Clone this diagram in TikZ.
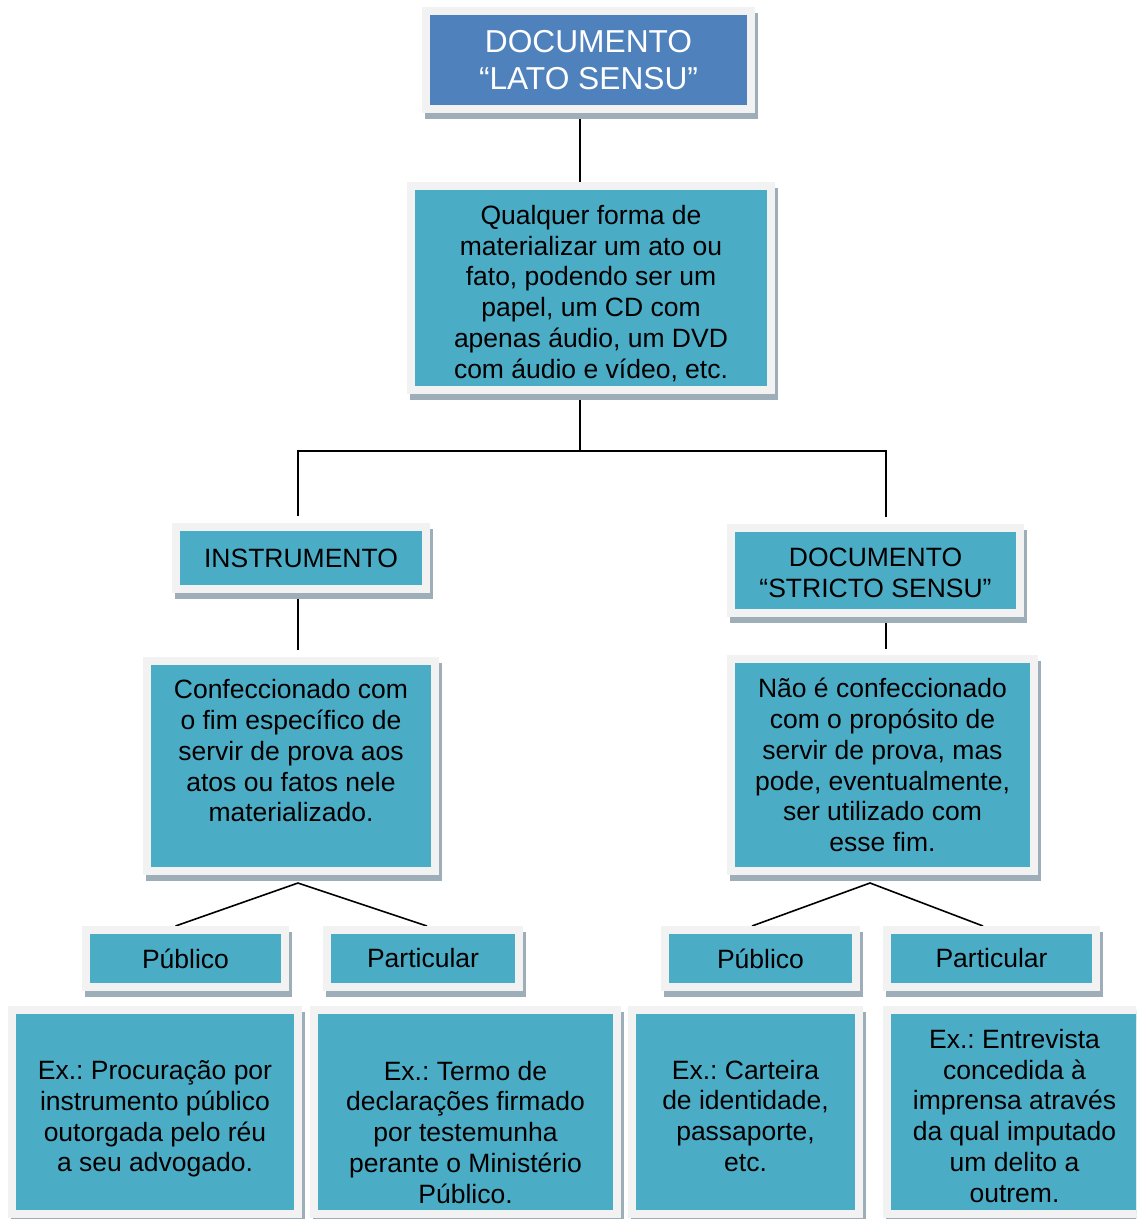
\documentclass[tikz,border=0pt]{standalone}
\usepackage{fontspec}
\setmainfont{Liberation Sans}
\usetikzlibrary{backgrounds}
\definecolor{frameg}{RGB}{242,242,242}
\definecolor{tealbox}{RGB}{75,172,198}
\definecolor{bluebox}{RGB}{79,129,189}
\definecolor{shadowg}{RGB}{158,174,184}
\tikzset{
  shadowed/.style={preaction={fill=shadowg,draw=shadowg,transform canvas={shift={(3pt,-6pt)}}}},
  card/.style={shadowed,fill=tealbox,draw=frameg,line width=8pt,inner sep=0pt,align=center,
    font=\fontsize{26.5}{30.8}\selectfont},
  headcard/.style={card,fill=bluebox,text=white,font=\fontsize{31.7}{37}\selectfont},
  link/.style={line width=1.6pt,black}
}
\newcommand{\topgap}[1]{\rule{0pt}{#1}}
\frenchspacing

\begin{document}
\begin{tikzpicture}[x=1pt,y=-1pt]
  \path[use as bounding box] (0,0) rectangle (1136,1219);
  \clip (0,0) rectangle (1136,1219);
  % upper part
  \node[headcard,minimum width=325pt,minimum height=98pt] (lato) at (588.5,60) {DOCUMENTO\\“LATO SENSU”};
  \node[card,minimum width=360pt,minimum height=204pt] (latodef) at (591,288)
    {\topgap{30pt}Qualquer forma de\\materializar um ato ou\\fato, podendo ser um\\papel, um CD com\\apenas áudio, um DVD\\com áudio e vídeo, etc.};
  \node[card,minimum width=250pt,minimum height=62pt] (instr) at (301,558) {INSTRUMENTO};
  \node[card,minimum width=289pt,minimum height=85pt] (stricto) at (875.5,570.5) {\topgap{24pt}DOCUMENTO\\“STRICTO SENSU”};
  \node[card,minimum width=288pt,minimum height=210pt] (instrdef) at (291,766)
    {Confeccionado com\\o fim específico de\\servir de prova aos\\atos ou fatos nele\\materializado.\\\phantom{E}};
  \node[card,minimum width=303pt,minimum height=212pt] (strictodef) at (882.5,765)
    {Não é confeccionado\\com o propósito de\\servir de prova, mas\\pode, eventualmente,\\ser utilizado com\\esse fim.};
  % kinds
  \node[card,minimum width=199pt,minimum height=57pt] (instrpub) at (185.5,958.5) {Público};
  \node[card,minimum width=192pt,minimum height=57pt] (instrpart) at (423,958.5) {Particular};
  \node[card,minimum width=191pt,minimum height=57pt] (strictopub) at (760.5,958.5) {Público};
  \node[card,minimum width=209pt,minimum height=57pt] (strictopart) at (991.5,958.5) {Particular};
  % examples
  \node[card,minimum width=286pt,minimum height=204pt] (expub) at (155,1112)
    {\topgap{33pt}Ex.: Procuração por\\instrumento público\\outorgada pelo réu\\a seu advogado.};
  \node[card,minimum width=303pt,minimum height=204pt] (expart) at (465.5,1112)
    {\topgap{29pt}\\Ex.: Termo de\\declarações firmado\\por testemunha\\perante o Ministério\\Público.};
  \node[card,minimum width=227pt,minimum height=204pt] (exsp) at (745.5,1112)
    {\topgap{27pt}Ex.: Carteira\\de identidade,\\passaporte,\\etc.};
  \node[card,minimum width=255pt,minimum height=204pt] (exspart) at (1014.5,1112)
    {\topgap{27pt}Ex.: Entrevista\\concedida à\\imprensa através\\da qual imputado\\um delito a\\outrem.};
  % connectors
  \coordinate (split) at (580,451);
  \coordinate (lsplit) at (298,451);
  \coordinate (rsplit) at (886,451);
  \coordinate (lfork) at (298,883);
  \coordinate (rfork) at (870,883);
  \begin{scope}[on background layer]
    \draw[link] (lato.south -| split) -- (latodef.north -| split);
    \draw[link] (latodef.south -| split) -- (split);
    \draw[link] ([yshift=7pt]instr.north -| lsplit) -- (lsplit) -- (rsplit) -- ([yshift=7pt]stricto.north -| rsplit);
    \draw[link] (instr.south -| lsplit) -- ([yshift=7pt]instrdef.north -| lsplit);
    \draw[link] (stricto.south -| rsplit) -- ([yshift=6pt]strictodef.north -| rsplit);
    \draw[link] ([xshift=-10pt]instrpub.north) -- (lfork) -- ([xshift=4pt]instrpart.north);
    \draw[link] ([xshift=-8.5pt]strictopub.north) -- (rfork) -- ([xshift=-8.5pt]strictopart.north);
  \end{scope}
\end{tikzpicture}
\end{document}
